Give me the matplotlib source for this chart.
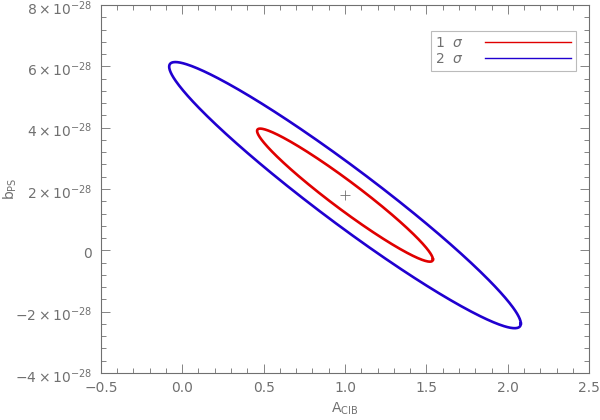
import numpy as np
import matplotlib
matplotlib.use("Agg")
import matplotlib.pyplot as plt
import matplotlib.transforms as mtransforms
from matplotlib.ticker import FixedLocator, MultipleLocator

# ---------- values ----------
center_A = 1.0          # best fit A_CIB
center_b = 1.8e-28      # best fit b_PS
sigma_A = 0.54
sigma_b = 2.17e-28
rho = -0.965            # correlation between A_CIB and b_PS
levels = [1, 2]
level_labels = [r'1  $\sigma$', r'2  $\sigma$']
level_colors = ['#e00000', '#2000d0']

x_ticks = [-0.5, 0.0, 0.5, 1.0, 1.5, 2.0, 2.5]
x_ticklabels = ['\u22120.5', '0.0', '0.5', '1.0', '1.5', '2.0', '2.5']
y_ticks = [-4e-28, -2e-28, 0, 2e-28, 4e-28, 6e-28, 8e-28]
y_ticklabels = [r'$-4\times10^{-28}$', r'$-2\times10^{-28}$', r'$0$',
                r'$2\times10^{-28}$', r'$4\times10^{-28}$',
                r'$6\times10^{-28}$', r'$8\times10^{-28}$']

grey = '#707070'
plt.rcParams['font.family'] = 'DejaVu Sans'
plt.rcParams['mathtext.fontset'] = 'dejavusans'

fig = plt.figure(figsize=(6, 4.2), dpi=100)
ax = fig.add_axes([0.168, 0.112, 0.814, 0.876])

# ---------- confidence ellipses ----------
t = np.linspace(0, 2 * np.pi, 400)
for k, lab, col in zip(levels, level_labels, level_colors):
    xs = center_A + k * sigma_A * np.cos(t)
    ys = center_b + k * sigma_b * (rho * np.cos(t) + np.sqrt(1 - rho**2) * np.sin(t))
    ax.plot(xs, ys, color=col, linewidth=1.9, label=lab)

ax.plot(center_A, center_b, '+', color=grey, markersize=7, markeredgewidth=0.6)

# ---------- axes ----------
ax.set_xlim(-0.5, 2.5)
ax.set_ylim(-4e-28, 8e-28)
ax.xaxis.set_major_locator(FixedLocator(x_ticks))
ax.set_xticklabels(x_ticklabels)
ax.xaxis.set_minor_locator(MultipleLocator(0.1))
ax.yaxis.set_major_locator(FixedLocator(y_ticks))
ax.set_yticklabels(y_ticklabels)
ax.yaxis.set_minor_locator(MultipleLocator(0.4e-28))

ax.tick_params(which='both', direction='in', top=True, right=True,
               colors=grey, labelcolor=grey, width=0.6, labelsize=10)
ax.tick_params(which='major', length=6.5, pad=6)
ax.tick_params(which='minor', length=3.5)
for s in ax.spines.values():
    s.set_color(grey)
    s.set_linewidth(0.8)

# nudge y tick labels down a little (after tick_params, which resets transforms)
shift = mtransforms.ScaledTranslation(0, -2.5 / 72, fig.dpi_scale_trans)
for tick in ax.yaxis.get_major_ticks():
    tick.label1.set_verticalalignment('center')
    tick.label1.set_transform(tick.label1.get_transform() + shift)

ax.set_xlabel(r'$\mathregular{A_{CIB}}$', color=grey, fontsize=10, labelpad=4)
ax.set_ylabel(r'$\mathregular{b_{PS}}$', color=grey, fontsize=10)
ax.yaxis.set_label_coords(-0.168, 0.5)

# legend: text first, line on the right
leg = ax.legend(loc='upper right', bbox_to_anchor=(0.973, 0.929), markerfirst=False,
                handlelength=6.2, fontsize=10, frameon=True, fancybox=False,
                borderpad=0.35, labelspacing=0.15, handletextpad=1.5,
                borderaxespad=0)
leg.get_frame().set_edgecolor('#aaaaaa')
leg.get_frame().set_linewidth(0.8)
for line in leg.get_lines():
    line.set_linewidth(1.0)
for txt in leg.get_texts():
    txt.set_color(grey)

fig.savefig('out.png', dpi=100)
